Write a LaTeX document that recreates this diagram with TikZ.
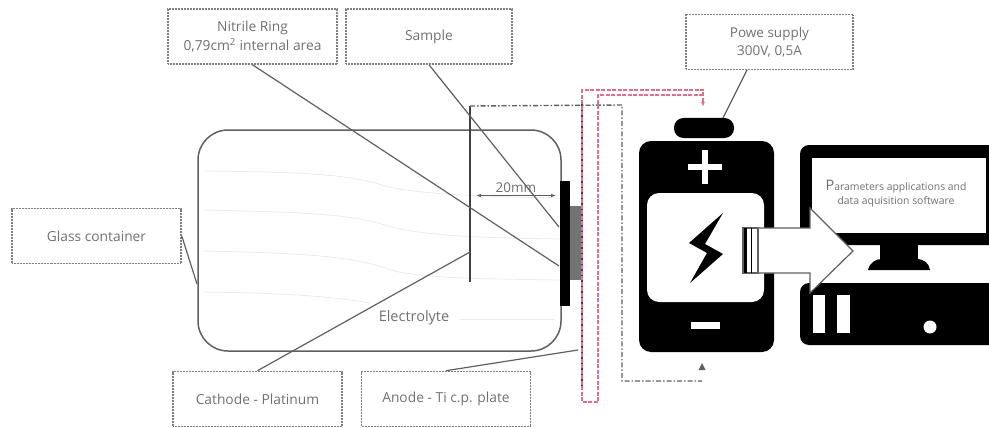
\documentclass[tikz,border=0pt]{standalone}
\usepackage{fontspec}
\setmainfont{Open Sans}
\usetikzlibrary{arrows.meta}
\definecolor{labelgray}{HTML}{707070}
\definecolor{wiregray}{HTML}{606060}
\definecolor{boxgray}{HTML}{808080}
\definecolor{wirered}{HTML}{E0708A}

\begin{document}
\begin{tikzpicture}[x=1pt,y=-1pt,
 labelbox/.style ={draw=boxgray,dash pattern=on .8pt off .7pt,line width=1.6pt,text=labelgray,font=\fontsize{13.8}{19}\selectfont,align=center,minimum height=55pt,inner sep=0pt},
 leader/.style ={-,draw=wiregray,line width=1.2pt},
 glass/.style ={draw=wiregray,line width=1.5pt,rounded corners=30pt},
 faint/.style ={draw=black!8,line width=.8pt},
 plate/.style ={draw=black!75,line width=2.6pt},
 wirecathode/.style ={draw=wiregray,line width=1.4pt,dash pattern=on 5pt off 2pt on 1.5pt off 2pt},
 wireanode/.style ={draw=wirered,line width=1.3pt,dash pattern=on 4pt off 1.5pt},
 blackpart/.style ={fill=black,draw=none},
 whitepart/.style ={fill=white,draw=none}
 ]
\useasboundingbox (0,0) rectangle (989,428);
%draw electrolyte lines
\draw[faint] (205,171) .. controls (300,172) and (350,174) .. (385,186) .. controls (420,195) and (500,197) .. (560,198);
\draw[faint] (205,210) .. controls (300,212) and (350,214) .. (385,225) .. controls (420,237) and (500,238) .. (560,239);
\draw[faint] (203,251) .. controls (300,253) and (350,256) .. (385,268) .. controls (410,279) and (500,279) .. (560,280);
\draw[faint] (203,292) .. controls (280,293) and (330,296) .. (370,303);
\draw[faint] (460,319) -- (555,319);
%draw glass container
\draw[glass] (198,130) rectangle (561,351);
\node[text=labelgray,font=\fontsize{14.5}{17}\selectfont] (electrolyte) at (414,318) {Electrolyte};
%draw nitrile ring and sample
\fill[blackpart] (560,181) rectangle (570,306);
\fill[fill=black!55] (570,206) rectangle (581,280);
%draw cathode and anode
\coordinate (cathodetop) at (470,106);
\coordinate (anodetop) at (581.5,104);
\draw[plate] (cathodetop) -- (470,282);
\draw[plate,line width=2pt] (anodetop) -- (581.5,390);
%draw distance
\coordinate (gapleft) at (476,195.5);
\coordinate (gapright) at (556,195.5);
\draw[{Latex[length=5pt]}-{Latex[length=5pt]},draw=wiregray,line width=1pt] (gapleft) -- (gapright);
\node[text=labelgray,font=\fontsize{13.5}{16}\selectfont] (gaplabel) at (516,188) {20mm};
%draw battery
\fill[blackpart,rounded corners=9.5pt] (674,118) rectangle (734,138);
\fill[blackpart,rounded corners=12pt] (639,141) rectangle (774,352);
\fill[whitepart] (702,150) rectangle (708,184);
\fill[whitepart] (688,164) rectangle (722,170);
\fill[whitepart,rounded corners=12pt] (647,193) rectangle (764,302);
\fill[blackpart] (723,213) -- (689,243) -- (707,253) -- (690,283) -- (723,254) -- (705,244) -- cycle;
\fill[whitepart] (691,322) rectangle (720,329);
%draw computer
\fill[blackpart,rounded corners=9pt] (800,145) rectangle (1000,245);
\fill[whitepart] (812,158) rectangle (986,233);
\fill[blackpart] (880,245) rectangle (918,262);
\fill[blackpart] (868,270) .. controls (870,262) and (876,259) .. (882,259) -- (916,259) .. controls (924,259) and (929,263) .. (930,270) -- cycle;
\fill[blackpart,rounded corners=9pt] (800,283) rectangle (1000,345);
\fill[whitepart] (813,295) rectangle (825,333);
\fill[whitepart] (837,295) rectangle (850,333);
\fill[whitepart] (930,327) circle (6.5);
\node[text=labelgray,font=\fontsize{10.4}{14.5}\selectfont,align=center] (software) at (896,193.5) {{\fontsize{14.5}{14.5}\selectfont P}arameters applications and\\data aquisition software};
%draw data arrow
\draw[fill=white,draw=wiregray,line width=1.2pt] (758,228) -- (810,228) -- (810,208) -- (853,251) -- (810,293) -- (810,273) -- (758,273) -- cycle;
\draw[fill=white,draw=wiregray,line width=1.2pt] (743,228) rectangle (758,273);
\fill[blackpart] (744,228) rectangle (747,273);
\fill[blackpart] (750.5,228) rectangle (752,273);
%draw circuit wires
\coordinate (supplyplus) at (703,107);
\coordinate (supplyminus) at (702,366);
\draw[wirecathode] (cathodetop) -- (622,105) -- (622,381) -- (702,381);
\fill[wiregray] (supplyminus) ++(0,-3) -- ++(3.5,7) -- ++(-7,0) -- cycle;
\draw[wireanode,-{Latex[length=5pt]}] (703,95) -- (598,95) -- (598,402) -- (582,402) -- (582,90) -- (703,90) -- (supplyplus);
%draw labels
\node[labelbox,minimum width=169pt] (nitrile) at (252.5,36.5) {Nitrile Ring\\0,79cm\textsuperscript{2} internal area};
\node[labelbox,minimum width=166pt] (sample) at (429,36.5) {Sample};
\node[labelbox,minimum width=167pt,font=\fontsize{13.5}{18}\selectfont] (supply) at (769.5,42) {Powe supply\\300V, 0,5A};
\node[labelbox,minimum width=169pt] (container) at (96.5,236) {Glass container};
\node[labelbox,minimum width=169pt] (cathode) at (257.5,399) {Cathode - Platinum};
\node[labelbox,minimum width=169pt] (anode) at (446,399) {Anode - Ti c.p. plate};
%draw leaders
\coordinate (supplytap) at (747,70);
\draw[leader] (nitrile.south) -- (559,266);
\draw[leader] (sample.south) -- (559,227);
\draw[leader] (container.east) -- (197,284);
\draw[leader] (cathode.north) -- (470,252);
\draw[leader] (anode.north) -- (578,350);
\draw[leader] (supplytap) -- (723,118);
\end{tikzpicture}
\end{document}
